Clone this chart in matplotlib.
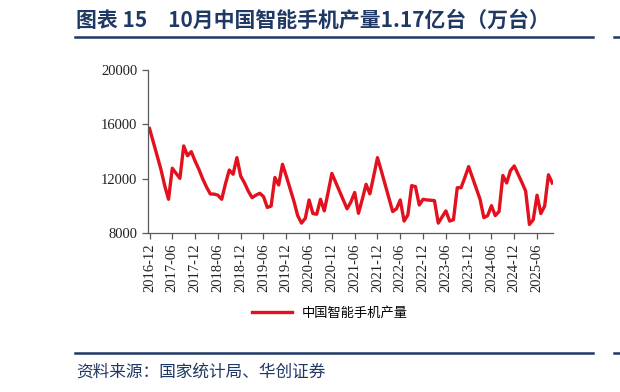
import numpy as np
import matplotlib.pyplot as plt
import matplotlib.lines as mlines

plt.rcParams['font.family'] = ['Noto Sans CJK SC', 'DejaVu Sans']

# monthly output, 2016-12 .. 2025-10 (10k units)
months = [f"{y}-{m:02d}" for y in range(2016, 2026) for m in range(1, 13)]
months = months[months.index("2016-12"):months.index("2025-10") + 1]
output = [
    15700, 14700, 13700, 12700, 11500, 10500, 12780, 12400, 12040, 14420, 13700, 14000,
    13300, 12700, 12000, 11400, 10890, 10880, 10800, 10500, 11650, 12650, 12340, 13560,
    12200, 11700, 11100, 10620, 10800, 10940, 10700, 9900, 10000, 12100, 11550, 13070,
    12200, 11280, 10360, 9300, 8750, 9100, 10450, 9450, 9400, 10500, 9650, 11000,
    12400, 11750, 11100, 10450, 9800, 10300, 11000, 9470, 10500, 11600, 10900, 12200,
    13560, 12600, 11600, 10600, 9600, 9800, 10450, 8900, 9350, 11500, 11430, 10080,
    10500, 10450, 10430, 10400, 8750, 9200, 9650, 8900, 9000, 11350, 11350, 12100,
    12900, 12100, 11300, 10500, 9150, 9300, 10030, 9300, 9600, 12250, 11700, 12600,
    12950, 12350, 11750, 11100, 8650, 9000, 10800, 9450, 10000, 12300, 11700,
]
series_name = "中国智能手机产量"
yticks = [8000, 12000, 16000, 20000]

navy = '#1f3864'
fig = plt.figure(figsize=(6.2, 3.92), dpi=100)

# title and frame lines
fig.text(76 / 620, 1 - 20 / 392, "图表 15　10月中国智能手机产量1.17亿台（万台）",
         fontsize=15, fontweight='bold', color=navy, va='center', ha='left')
fig.add_artist(mlines.Line2D([75 / 620, 593 / 620], [1 - 37 / 392] * 2, color=navy, lw=1.8))
fig.add_artist(mlines.Line2D([614 / 620, 1.0], [1 - 37 / 392] * 2, color=navy, lw=1.8))
fig.add_artist(mlines.Line2D([75 / 620, 593 / 620], [1 - 353 / 392] * 2, color=navy, lw=1.8))
fig.add_artist(mlines.Line2D([614 / 620, 1.0], [1 - 353 / 392] * 2, color=navy, lw=1.8))
fig.text(76 / 620, 1 - 372 / 392, "资料来源：国家统计局、华创证券",
         fontsize=12, color=navy, va='center', ha='left')

ax = fig.add_axes([148 / 620, 1 - 233.3 / 392, 405 / 620, 163.3 / 392])
x = np.arange(len(output))
ax.plot(x, output, color='#e3101e', lw=2.4, label=series_name)

ax.set_ylim(8000, 20000)
ax.set_yticks(yticks)
ax.set_xlim(-0.4, len(output) - 0.8)
ax.set_xticks(x[::6][:18])
ax.set_xticklabels(months[::6][:18], rotation=90)

for s in ['top', 'right']:
    ax.spines[s].set_visible(False)
for s in ['left', 'bottom']:
    ax.spines[s].set_color('#595959')
    ax.spines[s].set_linewidth(0.9)
ax.tick_params(axis='both', colors='#595959', length=4, width=0.9, direction='out')
for lab in ax.get_xticklabels() + ax.get_yticklabels():
    lab.set_family('Liberation Serif')
    lab.set_fontsize(10.5)
    lab.set_color('#222222')

fig.legend(loc='center', bbox_to_anchor=(330 / 620, 1 - 313 / 392), frameon=False,
           fontsize=9.5, handlelength=3)

plt.savefig('out.png', dpi=100)
